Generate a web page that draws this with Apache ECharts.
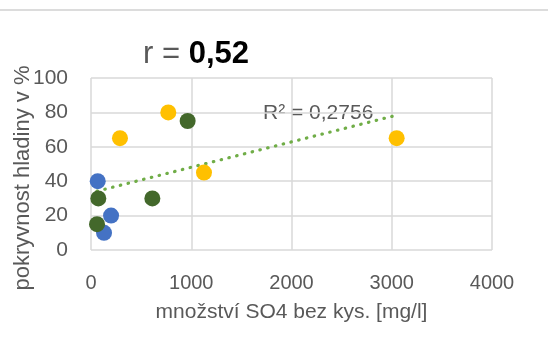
<!DOCTYPE html>
<html>
<head>
<meta charset="utf-8">
<script src="https://cdn.jsdelivr.net/npm/echarts@6/dist/echarts.min.js"></script>
<style>
  html, body { margin: 0; padding: 0; background: #fff; }
  #chart { width: 548px; height: 343px; }
</style>
</head>
<body>
<div id="chart"></div>
<script>
  // body vody - tri skupiny
  var bluePts = [[67, 40], [130, 10], [200, 20]];
  var greenPts = [[73, 30], [60, 15], [612, 30], [964, 75]];
  var yellowPts = [[289, 65], [771, 80], [1127, 45], [3049, 65]];
  var xTicks = [0, 1000, 2000, 3000, 4000];
  var yTicks = [0, 20, 40, 60, 80, 100];

  // linearni trend pres vsechny body
  var all = bluePts.concat(greenPts, yellowPts);
  var n = all.length, sx = 0, sy = 0;
  all.forEach(function (p) { sx += p[0]; sy += p[1]; });
  var mx = sx / n, my = sy / n, sxy = 0, sxx = 0;
  all.forEach(function (p) { sxy += (p[0] - mx) * (p[1] - my); sxx += (p[0] - mx) * (p[0] - mx); });
  var slope = sxy / sxx, icpt = my - slope * mx;
  var xs = all.map(function (p) { return p[0]; });
  var x0 = Math.min.apply(null, xs), x1 = Math.max.apply(null, xs);
  var trend = [[x0, icpt + slope * x0], [x1, icpt + slope * x1]];

  var font = 'Liberation Sans, Arial, sans-serif';
  var gray = '#595959';

  var myChart = echarts.init(document.getElementById('chart'));
  myChart.setOption({
    animation: false,
    title: {
      text: '{a|r = }{b|0,52}',
      left: 138,
      top: 34,
      textStyle: {
        fontWeight: 'normal',
        rich: {
          a: { fontFamily: font, fontSize: 31, fontWeight: 'normal', color: gray },
          b: { fontFamily: font, fontSize: 31, fontWeight: 'bold', color: '#000' }
        }
      }
    },
    grid: { left: 91, right: 56, top: 78, bottom: 93 },
    xAxis: {
      type: 'value',
      min: xTicks[0], max: xTicks[xTicks.length - 1], interval: 1000,
      name: 'množství SO4 bez kys. [mg/l]',
      nameLocation: 'middle',
      nameGap: 52,
      nameTextStyle: { fontFamily: font, fontSize: 21, color: gray },
      axisLine: { show: false },
      axisTick: { show: false },
      axisLabel: {
        fontFamily: font, fontSize: 20, color: gray, margin: 23,
        formatter: function (v) { return String(v); }
      },
      splitLine: { lineStyle: { color: '#D9D9D9', width: 1.5 } }
    },
    yAxis: {
      type: 'value',
      min: yTicks[0], max: yTicks[yTicks.length - 1], interval: 20,
      axisLine: { show: false },
      axisTick: { show: false },
      axisLabel: { fontFamily: font, fontSize: 21, color: gray, margin: 23 },
      splitLine: { lineStyle: { color: '#D9D9D9', width: 1.5 } }
    },
    graphic: [
      {
        type: 'line',
        shape: { x1: 0, y1: 10, x2: 548, y2: 10 },
        style: { stroke: '#DCDCDC', lineWidth: 2 }
      },
      {
        type: 'text',
        x: 23, y: 178,
        rotation: Math.PI / 2,
        style: {
          text: 'pokryvnost hladiny v %',
          fontFamily: font, fontSize: 22, fill: gray,
          align: 'center', verticalAlign: 'middle'
        }
      },
      {
        type: 'text',
        left: 263, top: 103,
        style: {
          text: 'R² = 0,2756',
          fontFamily: font, fontSize: 21, fill: gray
        }
      }
    ],
    series: [
      {
        type: 'line',
        data: trend,
        symbol: 'none',
        z: 1,
        lineStyle: { color: '#70AD47', width: 3.2, type: [0.5, 7.5], cap: 'round' }
      },
      { type: 'scatter', data: bluePts, symbolSize: 16, z: 3, itemStyle: { color: '#4472C4', opacity: 1 } },
      { type: 'scatter', data: greenPts, symbolSize: 16, z: 3, itemStyle: { color: '#43682B', opacity: 1 } },
      { type: 'scatter', data: yellowPts, symbolSize: 16, z: 3, itemStyle: { color: '#FFC000', opacity: 1 } }
    ]
  });
</script>
</body>
</html>
